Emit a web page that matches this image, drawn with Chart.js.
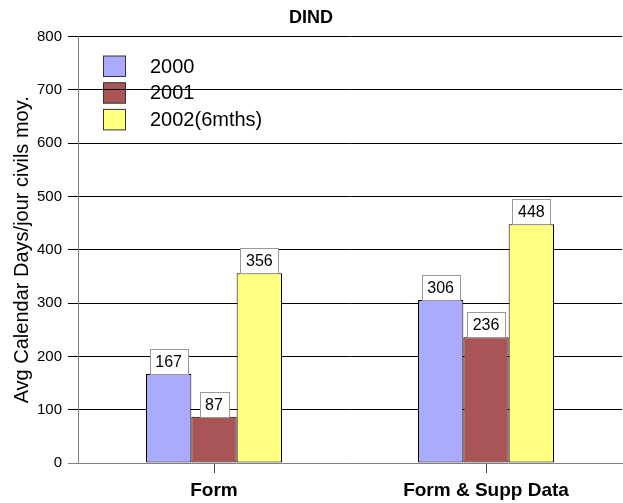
<!DOCTYPE html>
<html>
<head>
<meta charset="utf-8">
<script src="https://cdn.jsdelivr.net/npm/chart.js@4/dist/chart.umd.min.js"></script>
<style>
  html, body { margin: 0; padding: 0; background: #fff; }
  #wrap { width: 623px; height: 503px; }
</style>
</head>
<body>
<div id="wrap"><canvas id="c" width="623" height="503"></canvas></div>
<script>
const categories = ['Form', 'Form & Supp Data'];
const seriesNames = ['2000', '2001', '2002(6mths)'];
const values2000 = [167, 306];
const values2001 = [87, 236];
const values2002 = [356, 448];
const yTicks = [0, 100, 200, 300, 400, 500, 600, 700, 800];

const FONT = '"Liberation Sans", Arial, sans-serif';
const colors = ['#AAAAFF', '#AA5555', '#FFFF80'];

const legendPlugin = {
  id: 'insideLegend',
  beforeDraw(chart) {
    const ctx = chart.ctx;
    ctx.save();
    const x0 = 103.5, y0 = 56, step = 26.7, bw = 22, bh = 20.5;
    chart.data.datasets.forEach((ds, i) => {
      const y = y0 + i * step;
      ctx.fillStyle = ds.backgroundColor;
      ctx.fillRect(x0, y, bw, bh);
      ctx.strokeStyle = '#333';
      ctx.lineWidth = 1;
      ctx.strokeRect(x0, y, bw, bh);
      ctx.fillStyle = '#000';
      ctx.font = '20px ' + FONT;
      ctx.textBaseline = 'middle';
      ctx.textAlign = 'left';
      ctx.fillText(ds.label, 150, y + bh / 2 + 1);
    });
    ctx.restore();
  }
};

const labelPlugin = {
  id: 'valueBoxes',
  afterDatasetsDraw(chart) {
    const ctx = chart.ctx;
    ctx.save();
    ctx.font = '16px ' + FONT;
    ctx.textAlign = 'center';
    ctx.textBaseline = 'middle';
    chart.data.datasets.forEach((ds, di) => {
      const meta = chart.getDatasetMeta(di);
      meta.data.forEach((bar, i) => {
        const txt = String(ds.data[i]);
        const tw = ctx.measureText(txt).width;
        const w = Math.round(tw + 11), h = 25;
        const x = Math.round(bar.x - w / 2) + 0.5;
        const y = Math.round(bar.y - h) + 0.5;
        ctx.fillStyle = '#fff';
        ctx.fillRect(x, y, w, h);
        ctx.strokeStyle = '#999';
        ctx.lineWidth = 1;
        ctx.strokeRect(x, y, w, h);
        ctx.fillStyle = '#000';
        ctx.fillText(txt, bar.x, y + h / 2 + 1);
      });
    });
    ctx.restore();
  }
};

const allSeries = [values2000, values2001, values2002];

new Chart(document.getElementById('c'), {
  type: 'bar',
  data: {
    labels: categories,
    datasets: seriesNames.map((name, i) => ({
      label: name,
      data: allSeries[i],
      backgroundColor: colors[i],
      borderColor: '#000',
      borderWidth: 1,
      borderSkipped: false,
      categoryPercentage: 0.5,
      barPercentage: 1.0
    }))
  },
  options: {
    responsive: false,
    animation: false,
    devicePixelRatio: 1,
    layout: { padding: { left: 0, right: 1, top: 0, bottom: 0 } },
    plugins: {
      legend: { display: false },
      tooltip: { enabled: false },
      title: {
        display: true,
        text: 'DIND',
        color: '#000',
        font: { family: FONT, size: 18, weight: 'bold', lineHeight: 1.2 },
        padding: { top: 7, bottom: 8 }
      }
    },
    scales: {
      x: {
        grid: {
          display: true,
          drawOnChartArea: false,
          offset: false,
          tickLength: 10,
          color: '#404040'
        },
        border: { color: '#808080', width: 1 },
        ticks: {
          color: '#000',
          padding: 6,
          font: { family: FONT, size: 19, weight: 'bold' },
          maxRotation: 0
        },
        afterFit(scale) { scale.height = 40; }
      },
      y: {
        min: 0,
        max: 800,
        afterBuildTicks(scale) { scale.ticks = yTicks.map(v => ({ value: v })); },
        grid: {
          color: (c) => (c.tick && c.tick.value === 0 ? '#808080' : '#000'),
          tickLength: 10
        },
        border: { color: '#808080', width: 1 },
        ticks: {
          color: '#000',
          padding: 6,
          font: { family: FONT, size: 15 }
        },
        title: {
          display: true,
          text: 'Avg Calendar Days/jour civils moy.',
          color: '#000',
          font: { family: FONT, size: 20, lineHeight: 1.2 },
          padding: { top: 10, bottom: 0 }
        },
        afterFit(scale) { scale.width = 78; }
      }
    }
  },
  plugins: [legendPlugin, labelPlugin]
});
</script>
</body>
</html>
